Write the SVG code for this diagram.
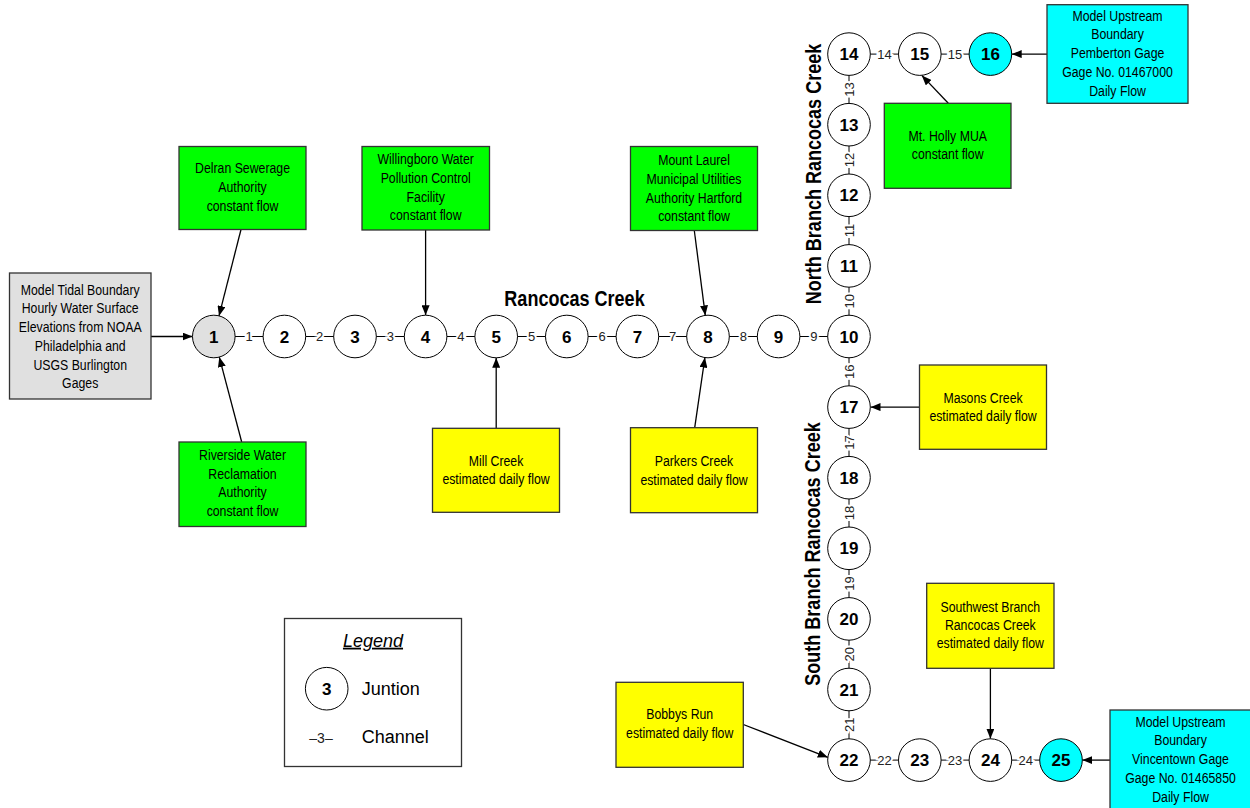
<svg xmlns="http://www.w3.org/2000/svg" width="1250" height="808" viewBox="0 0 1250 808">
<defs>
<marker id="ah" viewBox="0 0 10 8" refX="10" refY="4" markerWidth="10" markerHeight="8" markerUnits="userSpaceOnUse" orient="auto">
<path d="M0,0 L10,4 L0,8 z" fill="#000"/>
</marker>
</defs>
<style>
.box{stroke:#333;stroke-width:1.3}
.g{fill:#00ff00}
.y{fill:#ffff00}
.c{fill:#00ffff}
.gr{fill:#e0e0e0}
.bx{font-family:"Liberation Sans",Arial,sans-serif;font-size:15px;text-anchor:middle;fill:#000}
.nd{font-family:"Liberation Sans",Arial,sans-serif;font-weight:bold;font-size:17px;text-anchor:middle;fill:#000}
.circ{fill:#fff;stroke:#000;stroke-width:1}
.ch{font-family:"Liberation Sans",Arial,sans-serif;font-size:13px;text-anchor:middle;fill:#222;stroke:#fff;stroke-width:4;paint-order:stroke fill}
.cr{font-family:"Liberation Sans",Arial,sans-serif;font-weight:bold;font-size:22px;text-anchor:middle;fill:#000}
.lg{font-family:"Liberation Sans",Arial,sans-serif;font-size:18px;fill:#000}
.ln{fill:none;stroke:#000;stroke-width:1}
.ar{fill:none;stroke:#000;stroke-width:1.3;marker-end:url(#ah)}
</style>
<rect width="1250" height="808" fill="#fff"/>

<g id="connectors">
<path class="ln" d="M213.8 336.5 H849 M849 54.1 V760.1 M849 54.1 H990.4 M849 760.1 H1061"/>
<path class="ar" d="M151 336.5 L192.5 336.5"/>
<path class="ar" d="M241 229.5 L219 315.9"/>
<path class="ar" d="M241.7 442 L219.3 357.1"/>
<path class="ar" d="M425.6 230 L425.6 315.2"/>
<path class="ar" d="M496.2 428.3 L496.2 357.8"/>
<path class="ar" d="M694.3 230.5 L705.3 315.4"/>
<path class="ar" d="M694.7 427.7 L704.9 357.6"/>
<path class="ar" d="M948.3 103.3 L921.8 75.4"/>
<path class="ar" d="M1047 54.1 L1011.7 54.1"/>
<path class="ar" d="M919.5 407.1 L870.5 407.1"/>
<path class="ar" d="M990.4 668.3 L990.4 738.7"/>
<path class="ar" d="M743.3 724.5 L827.8 757.3"/>
<path class="ar" d="M1110 760.1 L1082.3 760.1"/>
<g id="channel-labels">
<text class="ch" x="249.1" y="341">1</text>
<text class="ch" x="319.7" y="341">2</text>
<text class="ch" x="390.3" y="341">3</text>
<text class="ch" x="460.9" y="341">4</text>
<text class="ch" x="531.5" y="341">5</text>
<text class="ch" x="602.1" y="341">6</text>
<text class="ch" x="672.7" y="341">7</text>
<text class="ch" x="743.3" y="341">8</text>
<text class="ch" x="813.9" y="341">9</text>
<text class="ch" transform="translate(849,301.2) rotate(-90)" x="0" y="4.6">10</text>
<text class="ch" transform="translate(849,230.6) rotate(-90)" x="0" y="4.6">11</text>
<text class="ch" transform="translate(849,160) rotate(-90)" x="0" y="4.6">12</text>
<text class="ch" transform="translate(849,89.4) rotate(-90)" x="0" y="4.6">13</text>
<text class="ch" x="884.4" y="58.6">14</text>
<text class="ch" x="955.1" y="58.6">15</text>
<text class="ch" transform="translate(849,371.8) rotate(-90)" x="0" y="4.6">16</text>
<text class="ch" transform="translate(849,442.4) rotate(-90)" x="0" y="4.6">17</text>
<text class="ch" transform="translate(849,513) rotate(-90)" x="0" y="4.6">18</text>
<text class="ch" transform="translate(849,583.6) rotate(-90)" x="0" y="4.6">19</text>
<text class="ch" transform="translate(849,654.2) rotate(-90)" x="0" y="4.6">20</text>
<text class="ch" transform="translate(849,724.8) rotate(-90)" x="0" y="4.6">21</text>
<text class="ch" x="884.4" y="764.6">22</text>
<text class="ch" x="955.1" y="764.6">23</text>
<text class="ch" x="1025.7" y="764.6">24</text>
</g>
</g>

<g id="creek-labels">
<text class="cr" transform="translate(574.5,305.7) scale(0.82,1)">Rancocas Creek</text>
<text class="cr" transform="translate(821,174) rotate(-90) scale(0.82,1)">North Branch Rancocas Creek</text>
<text class="cr" transform="translate(820,554) rotate(-90) scale(0.82,1)">South Branch Rancocas Creek</text>
</g>

<g id="n1"><circle class="circ" cx="213.8" cy="336.5" r="21.3" style="fill:#e0e0e0"/><text class="nd" x="213.8" y="342.6">1</text></g>
<g id="n2"><circle class="circ" cx="284.4" cy="336.5" r="21.3"/><text class="nd" x="284.4" y="342.6">2</text></g>
<g id="n3"><circle class="circ" cx="355" cy="336.5" r="21.3"/><text class="nd" x="355" y="342.6">3</text></g>
<g id="n4"><circle class="circ" cx="425.6" cy="336.5" r="21.3"/><text class="nd" x="425.6" y="342.6">4</text></g>
<g id="n5"><circle class="circ" cx="496.2" cy="336.5" r="21.3"/><text class="nd" x="496.2" y="342.6">5</text></g>
<g id="n6"><circle class="circ" cx="566.8" cy="336.5" r="21.3"/><text class="nd" x="566.8" y="342.6">6</text></g>
<g id="n7"><circle class="circ" cx="637.4" cy="336.5" r="21.3"/><text class="nd" x="637.4" y="342.6">7</text></g>
<g id="n8"><circle class="circ" cx="708" cy="336.5" r="21.3"/><text class="nd" x="708" y="342.6">8</text></g>
<g id="n9"><circle class="circ" cx="778.6" cy="336.5" r="21.3"/><text class="nd" x="778.6" y="342.6">9</text></g>
<g id="n10"><circle class="circ" cx="849" cy="336.5" r="21.3"/><text class="nd" x="849" y="342.6">10</text></g>
<g id="n11"><circle class="circ" cx="849" cy="265.9" r="21.3"/><text class="nd" x="849" y="272">11</text></g>
<g id="n12"><circle class="circ" cx="849" cy="195.3" r="21.3"/><text class="nd" x="849" y="201.4">12</text></g>
<g id="n13"><circle class="circ" cx="849" cy="124.7" r="21.3"/><text class="nd" x="849" y="130.8">13</text></g>
<g id="n14"><circle class="circ" cx="849" cy="54.1" r="21.3"/><text class="nd" x="849" y="60.2">14</text></g>
<g id="n15"><circle class="circ" cx="919.8" cy="54.1" r="21.3"/><text class="nd" x="919.8" y="60.2">15</text></g>
<g id="n16"><circle class="circ" cx="990.4" cy="54.1" r="21.3" style="fill:#00ffff"/><text class="nd" x="990.4" y="60.2">16</text></g>
<g id="n17"><circle class="circ" cx="849" cy="407.1" r="21.3"/><text class="nd" x="849" y="413.2">17</text></g>
<g id="n18"><circle class="circ" cx="849" cy="477.7" r="21.3"/><text class="nd" x="849" y="483.8">18</text></g>
<g id="n19"><circle class="circ" cx="849" cy="548.3" r="21.3"/><text class="nd" x="849" y="554.4">19</text></g>
<g id="n20"><circle class="circ" cx="849" cy="618.9" r="21.3"/><text class="nd" x="849" y="625">20</text></g>
<g id="n21"><circle class="circ" cx="849" cy="689.5" r="21.3"/><text class="nd" x="849" y="695.6">21</text></g>
<g id="n22"><circle class="circ" cx="849" cy="760.1" r="21.3"/><text class="nd" x="849" y="766.2">22</text></g>
<g id="n23"><circle class="circ" cx="919.8" cy="760.1" r="21.3"/><text class="nd" x="919.8" y="766.2">23</text></g>
<g id="n24"><circle class="circ" cx="990.4" cy="760.1" r="21.3"/><text class="nd" x="990.4" y="766.2">24</text></g>
<g id="n25"><circle class="circ" cx="1061" cy="760.1" r="21.3" style="fill:#00ffff"/><text class="nd" x="1061" y="766.2">25</text></g>

<g id="tidal">
<rect class="box gr" x="9.5" y="273" width="141.5" height="126"/>
<g transform="translate(80.2,0) scale(0.82,1)">
<text class="bx" x="0" y="295">Model Tidal Boundary</text>
<text class="bx" x="0" y="313.5">Hourly Water Surface</text>
<text class="bx" x="0" y="332.5">Elevations from NOAA</text>
<text class="bx" x="0" y="351">Philadelphia and</text>
<text class="bx" x="0" y="370">USGS Burlington</text>
<text class="bx" x="0" y="388.5">Gages</text>
</g>
</g>
<g id="delran">
<rect class="box g" x="179" y="146.5" width="127" height="83"/>
<g transform="translate(242.5,0) scale(0.82,1)">
<text class="bx" x="0" y="173.3">Delran Sewerage</text>
<text class="bx" x="0" y="192">Authority</text>
<text class="bx" x="0" y="211.5">constant flow</text>
</g>
</g>
<g id="riverside">
<rect class="box g" x="179" y="442" width="127" height="84.5"/>
<g transform="translate(242.5,0) scale(0.82,1)">
<text class="bx" x="0" y="460">Riverside Water</text>
<text class="bx" x="0" y="478.7">Reclamation</text>
<text class="bx" x="0" y="497.5">Authority</text>
<text class="bx" x="0" y="516.5">constant flow</text>
</g>
</g>
<g id="willingboro">
<rect class="box g" x="362" y="146.5" width="127.5" height="83.5"/>
<g transform="translate(425.7,0) scale(0.82,1)">
<text class="bx" x="0" y="164.3">Willingboro Water</text>
<text class="bx" x="0" y="183">Pollution Control</text>
<text class="bx" x="0" y="202">Facility</text>
<text class="bx" x="0" y="220.5">constant flow</text>
</g>
</g>
<g id="millcreek">
<rect class="box y" x="432.5" y="428.3" width="127" height="84"/>
<g transform="translate(496,0) scale(0.82,1)">
<text class="bx" x="0" y="465.7">Mill Creek</text>
<text class="bx" x="0" y="484.3">estimated daily flow</text>
</g>
</g>
<g id="mountlaurel">
<rect class="box g" x="630.5" y="146.5" width="127" height="84"/>
<g transform="translate(694,0) scale(0.82,1)">
<text class="bx" x="0" y="165">Mount Laurel</text>
<text class="bx" x="0" y="184">Municipal Utilities</text>
<text class="bx" x="0" y="203">Authority Hartford</text>
<text class="bx" x="0" y="221">constant flow</text>
</g>
</g>
<g id="parkers">
<rect class="box y" x="630.5" y="427.7" width="127" height="85"/>
<g transform="translate(694,0) scale(0.82,1)">
<text class="bx" x="0" y="466.5">Parkers Creek</text>
<text class="bx" x="0" y="485">estimated daily flow</text>
</g>
</g>
<g id="mtholly">
<rect class="box g" x="884.3" y="103.3" width="126.7" height="85"/>
<g transform="translate(947.7,0) scale(0.82,1)">
<text class="bx" x="0" y="141">Mt. Holly MUA</text>
<text class="bx" x="0" y="159.5">constant flow</text>
</g>
</g>
<g id="pemberton">
<rect class="box c" x="1047" y="4.7" width="141" height="98.6"/>
<g transform="translate(1117.5,0) scale(0.82,1)">
<text class="bx" x="0" y="20.7">Model Upstream</text>
<text class="bx" x="0" y="39.5">Boundary</text>
<text class="bx" x="0" y="58.3">Pemberton Gage</text>
<text class="bx" x="0" y="77.3">Gage No. 01467000</text>
<text class="bx" x="0" y="96.5">Daily Flow</text>
</g>
</g>
<g id="masons">
<rect class="box y" x="919.5" y="365" width="127" height="84.3"/>
<g transform="translate(983,0) scale(0.82,1)">
<text class="bx" x="0" y="403.3">Masons Creek</text>
<text class="bx" x="0" y="421.3">estimated daily flow</text>
</g>
</g>
<g id="southwest">
<rect class="box y" x="926.7" y="583.3" width="127.3" height="85"/>
<g transform="translate(990.3,0) scale(0.82,1)">
<text class="bx" x="0" y="611.7">Southwest Branch</text>
<text class="bx" x="0" y="630">Rancocas Creek</text>
<text class="bx" x="0" y="648.5">estimated daily flow</text>
</g>
</g>
<g id="bobbys">
<rect class="box y" x="616" y="682.3" width="127.3" height="85"/>
<g transform="translate(679.7,0) scale(0.82,1)">
<text class="bx" x="0" y="719.3">Bobbys Run</text>
<text class="bx" x="0" y="738">estimated daily flow</text>
</g>
</g>
<g id="vincentown">
<rect class="box c" x="1110" y="710" width="141" height="105"/>
<g transform="translate(1180.5,0) scale(0.82,1)">
<text class="bx" x="0" y="726.7">Model Upstream</text>
<text class="bx" x="0" y="745.5">Boundary</text>
<text class="bx" x="0" y="764.2">Vincentown Gage</text>
<text class="bx" x="0" y="782.8">Gage No. 01465850</text>
<text class="bx" x="0" y="801.7">Daily Flow</text>
</g>
</g>

<g id="legend">
<rect x="284.5" y="618.5" width="177" height="148" fill="#fff" stroke="#333" stroke-width="1.3"/>
<text class="lg" x="373" y="646.7" text-anchor="middle" font-style="italic" text-decoration="underline">Legend</text>
<circle class="circ" cx="326.7" cy="688.7" r="21.3"/>
<text class="nd" x="326.7" y="694.8">3</text>
<text class="lg" x="361.7" y="694.5">Juntion</text>
<text class="ch" x="321" y="742.5" style="stroke:none;font-size:14px">–3–</text>
<text class="lg" x="361.7" y="742.7">Channel</text>
</g>
</svg>
